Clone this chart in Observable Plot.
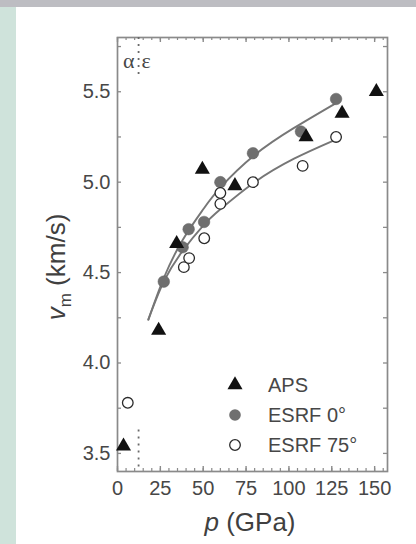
<!DOCTYPE html>
<html>
<head>
<meta charset="utf-8">
<script src="https://cdn.jsdelivr.net/npm/d3@7"></script>
<script src="https://cdn.jsdelivr.net/npm/@observablehq/plot@0.6"></script>
<style>
  html, body { margin: 0; padding: 0; background: #ffffff; }
  #wrap { position: relative; width: 416px; height: 544px; overflow: hidden; background: #ffffff; }
  #band { position: absolute; left: 0; top: 0; width: 416px; height: 7px; background: #bdbdc2; }
  #stripe { position: absolute; left: 0; top: 7px; width: 16px; height: 537px; background: #cfe3db; }
  #chart { position: absolute; left: 0; top: 0; }
</style>
</head>
<body>
<div id="wrap"><div id="band"></div><div id="stripe"></div><div id="chart"></div></div>
<script>
// ---- data ----
const apsPressure   = [3.5, 24, 34.5, 49.5, 68.5, 110, 131, 151];
const apsVelocity   = [3.54, 4.18, 4.66, 5.07, 4.98, 5.25, 5.38, 5.50];

const esrf0Pressure = [27, 38, 41.5, 50.5, 60, 79, 107, 127.5];
const esrf0Velocity = [4.45, 4.64, 4.74, 4.78, 5.00, 5.16, 5.28, 5.46];

const esrf75Pressure = [6, 38.7, 41.8, 50.6, 60, 60, 79, 108, 127.5];
const esrf75Velocity = [3.78, 4.53, 4.58, 4.69, 4.88, 4.94, 5.00, 5.09, 5.25];

// fitted curves
const fit0Pressure  = [18, 27, 38, 50, 60, 80, 103, 128];
const fit0Velocity  = [4.24, 4.47, 4.68, 4.85, 4.97, 5.15, 5.30, 5.44];
const fit75Pressure = [18, 27, 38, 50, 60, 80, 103, 126];
const fit75Velocity = [4.24, 4.45, 4.62, 4.76, 4.85, 5.00, 5.13, 5.23];

// alpha/epsilon transition marker
const transitionPressure = 12.3;
const transitionSegTop = [5.80, 5.57];
const transitionSegBottom = [3.63, 3.40];
const phaseLabels = ["α", "ε"];
const phaseLabelVelocity = 5.668;

// axes
const xTicks = [0, 25, 50, 75, 100, 125, 150];
const xMinorTicks = [0,5,10,15,20,25,30,35,40,45,50,55,60,65,70,75,80,85,90,95,100,105,110,115,120,125,130,135,140,145,150,155];
const yTicks = [3.5, 4.0, 4.5, 5.0, 5.5];
const yMinorTicks = [3.5, 3.75, 4.0, 4.25, 4.5, 4.75, 5.0, 5.25, 5.5, 5.75];
const seriesNames = ["APS", "ESRF 0°", "ESRF 75°"];

// ---- tables ----
const aps = apsPressure.map((p, i) => ({p, v: apsVelocity[i]}));
const esrf0 = esrf0Pressure.map((p, i) => ({p, v: esrf0Velocity[i]}));
const esrf75 = esrf75Pressure.map((p, i) => ({p, v: esrf75Velocity[i]}));
const fit0 = fit0Pressure.map((p, i) => ({p, v: fit0Velocity[i]}));
const fit75 = fit75Pressure.map((p, i) => ({p, v: fit75Velocity[i]}));
const transition = [
  {p: transitionPressure, v1: transitionSegTop[0], v2: transitionSegTop[1]},
  {p: transitionPressure, v1: transitionSegBottom[0], v2: transitionSegBottom[1]}
];

const W = 416, H = 544, mL = 117, mR = 29, mT = 37, mB = 73;
const innerH = H - mT - mB, innerW = W - mL - mR;
const axisColor = "#8a8a8a";
const textColor = "#474747";
const grayFill = "#6f6f6f";

const svg = Plot.plot({
  width: W, height: H,
  marginLeft: mL, marginRight: mR, marginTop: mT, marginBottom: mB,
  x: {domain: [0, 157.5]},
  y: {domain: [3.4, 5.8]},
  style: {background: "transparent", fontFamily: "'Liberation Sans', Arial, sans-serif"},
  marks: [
    // tick marks (inward), all four sides
    Plot.tickX(xMinorTicks, {x: d => d, insetTop: innerH - 3, stroke: axisColor, strokeWidth: 1.2}),
    Plot.tickX(xMinorTicks, {x: d => d, insetBottom: innerH - 3, stroke: axisColor, strokeWidth: 1.2}),
    Plot.tickX(xTicks, {x: d => d, insetTop: innerH - 5, stroke: axisColor, strokeWidth: 1.4}),
    Plot.tickX(xTicks, {x: d => d, insetBottom: innerH - 5, stroke: axisColor, strokeWidth: 1.4}),
    Plot.tickY(yMinorTicks, {y: d => d, insetRight: innerW - 4, stroke: axisColor, strokeWidth: 1.3}),
    Plot.tickY(yMinorTicks, {y: d => d, insetLeft: innerW - 4, stroke: axisColor, strokeWidth: 1.3}),
    Plot.frame({stroke: axisColor, strokeWidth: 1.7}),
    Plot.axisX(xTicks, {anchor: "bottom", tickSize: 0, tickPadding: 9, fontSize: 20, fill: textColor, label: null}),
    Plot.axisY(yTicks, {anchor: "left", tickSize: 0, tickPadding: 7, fontSize: 20, fill: textColor, label: null, tickFormat: d3.format(".1f")}),
    // transition marker
    Plot.ruleX(transition, {x: "p", y1: "v1", y2: "v2", stroke: "#6a6a6a", strokeWidth: 1.8, strokeDasharray: "2,5"}),
    Plot.text([phaseLabels[0]], {x: () => transitionPressure, y: () => phaseLabelVelocity, text: d => d, textAnchor: "end", dx: -4, fontSize: 22, fontFamily: "'Liberation Serif', 'DejaVu Serif', serif", fill: textColor}),
    Plot.text([phaseLabels[1]], {x: () => transitionPressure, y: () => phaseLabelVelocity, text: d => d, textAnchor: "start", dx: 3, fontSize: 22, fontFamily: "'Liberation Serif', 'DejaVu Serif', serif", fill: textColor}),
    // fits
    Plot.line(fit0, {x: "p", y: "v", curve: "natural", stroke: "#767676", strokeWidth: 1.9}),
    Plot.line(fit75, {x: "p", y: "v", curve: "natural", stroke: "#767676", strokeWidth: 1.9}),
    // data
    Plot.dot(esrf0, {x: "p", y: "v", r: 5.8, fill: grayFill, stroke: "#606060", strokeWidth: 0.5}),
    Plot.dot(esrf75, {x: "p", y: "v", r: 5.3, fill: "white", stroke: "#2a2a2a", strokeWidth: 1.3}),
    Plot.dot(aps, {x: "p", y: "v", r: 5.6, symbol: "triangle", fill: "#111111"})
  ]
});

const s = d3.select(svg);
// axis titles
const xt = s.append("text").attr("x", 250).attr("y", 531).attr("text-anchor", "middle")
  .attr("font-size", 26).attr("fill", "#404040").attr("font-family", "'Liberation Sans', Arial, sans-serif");
xt.append("tspan").attr("font-style", "italic").text("p");
xt.append("tspan").text(" (GPa)");

const yt = s.append("text").attr("transform", "translate(65,267) rotate(-90)").attr("text-anchor", "middle")
  .attr("font-size", 26).attr("fill", "#404040").attr("font-family", "'Liberation Sans', Arial, sans-serif");
yt.append("tspan").attr("font-style", "italic").text("v");
yt.append("tspan").attr("font-size", 17).attr("dy", 6).text("m");
yt.append("tspan").attr("dy", -6).text(" (km/s)");

// legend
const lg = s.append("g").attr("font-family", "'Liberation Sans', Arial, sans-serif").attr("font-size", 20)
  .attr("fill", textColor).attr("text-anchor", "start");
const rowY = [385, 415, 445];
lg.append("path").attr("transform", `translate(235,${rowY[0]})`)
  .attr("d", d3.symbol(d3.symbolTriangle, Math.PI * 5.6 * 5.6)()).attr("fill", "#111111");
lg.append("circle").attr("cx", 235).attr("cy", rowY[1]).attr("r", 5.8).attr("fill", grayFill);
lg.append("circle").attr("cx", 235).attr("cy", rowY[2]).attr("r", 5.3).attr("fill", "white").attr("stroke", "#2a2a2a").attr("stroke-width", 1.3);
seriesNames.forEach((name, i) => {
  lg.append("text").attr("x", 268).attr("y", rowY[i] + 7).attr("text-anchor", "start").text(name);
});

document.getElementById("chart").appendChild(svg);
</script>
</body>
</html>
